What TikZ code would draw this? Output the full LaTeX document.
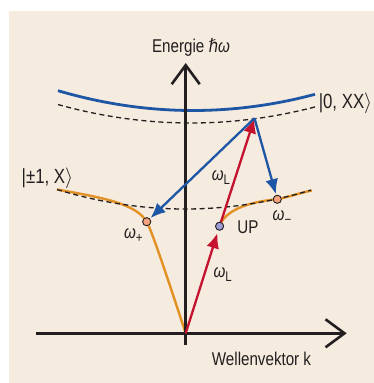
\documentclass[tikz,border=0pt]{standalone}
\usepackage{fontspec}
\setmainfont{Liberation Sans}[FakeStretch=0.82]
\newfontfamily\dvfont{DejaVu Sans}[FakeStretch=0.82]
\usetikzlibrary{arrows.meta}
\definecolor{bgbeige}{HTML}{F5EBDE}
\definecolor{pblue}{HTML}{1E56A6}
\definecolor{pred}{HTML}{C4122F}
\definecolor{porange}{HTML}{E39124}
\definecolor{pdark}{HTML}{231F20}
\definecolor{dotorange}{HTML}{F6A27E}
\definecolor{dotblue}{HTML}{9C9CD6}
\newcommand\lsub[1]{\raisebox{-0.22em}{\fontsize{14}{14}\selectfont\upshape #1}}
\newcommand\om{{\itshape ω}}
\begin{document}
\begin{tikzpicture}[x=1pt,y=-1pt,
  axis/.style={pdark,line width=2.6pt,-{Straight Barb[length=19pt,width=28pt]}},
  bluecurve/.style={pblue,line width=2.8pt},
  dashcurve/.style={pdark,line width=1.3pt,dash pattern=on 5pt off 3.5pt},
  orangecurve/.style={porange,line width=2.4pt},
  redarrow/.style={pred,line width=2.3pt,-{Latex[length=15pt,width=13pt]}},
  bluearrow/.style={pblue,line width=2.3pt,-{Latex[length=15pt,width=13pt]}},
  dotnode/.style={circle,draw=pdark,line width=0.8pt,minimum size=8pt,inner sep=0},
  lbl/.style={text=pdark,inner sep=0,font=\fontsize{18.5}{20}\selectfont},
  biglbl/.style={text=pdark,inner sep=0,font=\fontsize{20.5}{22}\selectfont}]
\useasboundingbox (0,0) rectangle (374,383);
\fill[bgbeige] (8.5,10.5) rectangle (374,383);

% coordinates
\coordinate (O) at (185.7,333.3);
\coordinate (ybot) at (185.7,345);
\coordinate (ytop) at (185.7,63);
\coordinate (xleft) at (35.7,333.3);
\coordinate (xright) at (346.7,333.3);
\coordinate (T) at (254.5,118.2);

% curves
\draw[bluecurve] plot[domain=58:315,samples=60] (\x,{110.5-((\x-193)*0.03298)^2});
\draw[dashcurve] plot[domain=58:315,samples=60] (\x,{123-((\x-191)*0.0323)^2});

% dots
\node[dotnode,fill=dotorange] (wp) at (146.7,221.7) {};
\node[dotnode,fill=dotblue] (up) at (219.6,226.2) {};
\node[dotnode,fill=dotorange] (wm) at (277.3,199.3) {};

\draw[orangecurve] (57,189.5) .. controls (105,198) and (136,204) .. (wp.center)
  .. controls (151,229) and (165,270) .. (O);
\draw[orangecurve] (up.center) .. controls (224,212) and (245,202) .. (wm.center)
  .. controls (290,196.5) and (300,193) .. (311.7,190.5);
\draw[dashcurve] plot[domain=57:311,samples=60] (\x,{209-((\x-185)*0.0345)^2});

% axes
\draw[axis] (ybot) -- (ytop);
\draw[axis] (xleft) -- (xright);

% arrows
\draw[redarrow,shorten >=3pt] (O) -- (up);
\draw[redarrow] (up) -- (T);
\draw[bluearrow,shorten >=1pt] (T) -- (wp);
\draw[bluearrow,shorten >=1pt] (T) -- (wm);

% redraw dots on top
\node[dotnode,fill=dotorange] at (wp) {};
\node[dotnode,fill=dotblue] at (up) {};
\node[dotnode,fill=dotorange] at (wm) {};

% labels
\node[lbl,anchor=base] (elbl) at (191,52.3) {Energie {\dvfont\itshape ℏ}\om};
\node[lbl,anchor=base] (klbl) at (261.5,365) {Wellenvektor k};
\node[biglbl,anchor=base west] (xlbl) at (21.5,183.3) {|±1, X$\rangle$};
\node[biglbl,anchor=base east] (xxlbl) at (372.5,108.3) {|0, XX$\rangle$};
\node[lbl,anchor=base] (wl1) at (221,180) {\om\lsub{L}};
\node[lbl,anchor=base] (wl2) at (222.7,277) {\om\lsub{L}};
\node[lbl,anchor=base] (wplbl) at (133.3,238.3) {\om\lsub{+}};
\node[lbl,anchor=base] (wmlbl) at (282,220.7) {\om\lsub{−}};
\node[lbl,anchor=base] (uplbl) at (248,233.3) {UP};
\end{tikzpicture}
\end{document}
